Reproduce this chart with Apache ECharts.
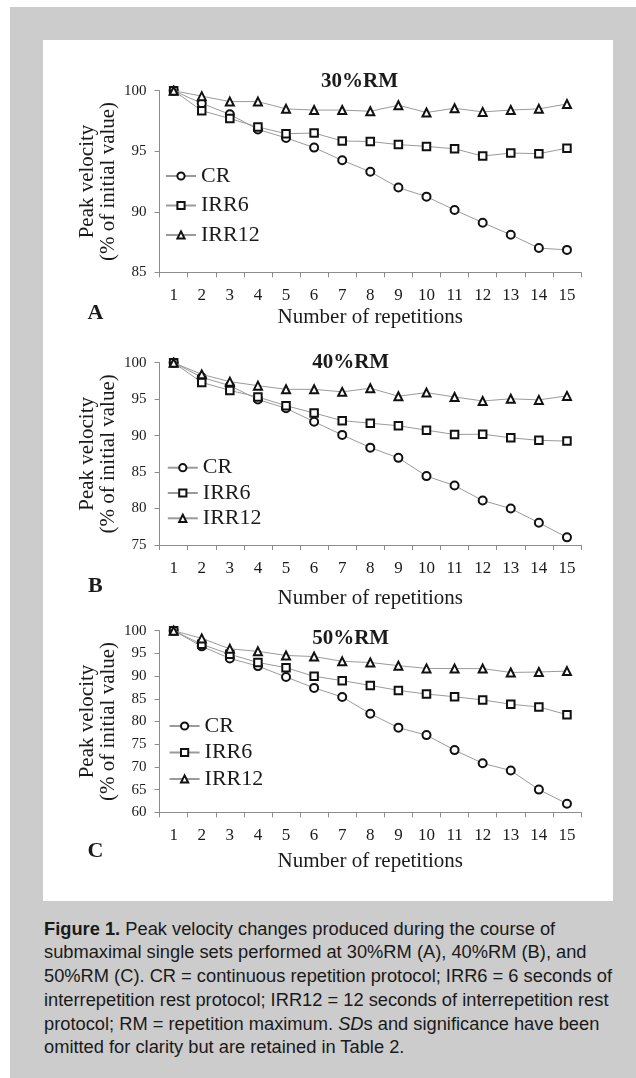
<!DOCTYPE html>
<html lang="en">
<head>
<meta charset="UTF-8" />
<title>Peak velocity</title>
<style>
  body { margin: 0; padding: 0; background: #fff; overflow: hidden; }
  .frame { position: absolute; left: 10px; top: 7px; right: 0; bottom: 0; background: #cccccc; }
  .panel { position: absolute; left: 43px; top: 40px; width: 570px; height: 861px; background: #fff; }
  .caption { position: absolute; left: 44px; top: 916.7px; white-space: nowrap;
    font: 18.3px/23.7px 'Liberation Sans', Arial, sans-serif; color: #1a1a1a; }
  .chart { position: absolute; left: 0; top: 0; width: 636px; height: 1078px; }
</style>
</head>
<body>
<div class="frame"></div>
<div class="panel"></div>
<div class="caption"><b>Figure 1.</b> Peak velocity changes produced during the course of<br>
submaximal single sets performed at 30%RM (A), 40%RM (B), and<br>
50%RM (C). CR = continuous repetition protocol; IRR6 = 6 seconds of<br>
interrepetition rest protocol; IRR12 = 12 seconds of interrepetition rest<br>
protocol; RM = repetition maximum. <i>SD</i>s and significance have been<br>
omitted for clarity but are retained in Table 2.</div>
<div class="chart"></div>
<script src="https://cdn.jsdelivr.net/npm/echarts@6/dist/echarts.min.js"></script>
<script>
// repetitions 1..15
const reps = ['1','2','3','4','5','6','7','8','9','10','11','12','13','14','15'];
const seriesNames = ['CR', 'IRR6', 'IRR12'];

// 30%RM
const cr30    = [100, 98.95, 98.05, 96.8, 96.1, 95.3, 94.25, 93.3, 92.0, 91.25, 90.15, 89.1, 88.1, 87.0, 86.85];
const irr6_30 = [100, 98.35, 97.7, 97.0, 96.45, 96.5, 95.85, 95.8, 95.55, 95.4, 95.2, 94.6, 94.85, 94.8, 95.25];
const irr12_30 = [100, 99.55, 99.1, 99.1, 98.5, 98.4, 98.4, 98.3, 98.8, 98.2, 98.55, 98.25, 98.4, 98.5, 98.9];
// 40%RM
const cr40    = [100, 98.0, 96.85, 94.95, 93.75, 91.9, 90.1, 88.35, 86.95, 84.45, 83.15, 81.1, 80.0, 78.05, 76.05];
const irr6_40 = [100, 97.3, 96.2, 95.3, 94.1, 93.1, 92.05, 91.7, 91.35, 90.75, 90.15, 90.2, 89.7, 89.35, 89.25];
const irr12_40 = [100, 98.4, 97.4, 96.85, 96.35, 96.35, 96.0, 96.5, 95.4, 95.9, 95.3, 94.75, 95.05, 94.9, 95.45];
// 50%RM
const cr50    = [100, 96.55, 93.9, 92.2, 89.8, 87.4, 85.4, 81.7, 78.65, 77.0, 73.7, 70.8, 69.2, 65.0, 61.9];
const irr6_50 = [100, 97.0, 94.8, 93.0, 91.85, 89.95, 89.0, 87.95, 86.85, 86.05, 85.45, 84.75, 83.8, 83.2, 81.5];
const irr12_50 = [100, 98.3, 96.0, 95.45, 94.55, 94.3, 93.25, 93.0, 92.3, 91.7, 91.65, 91.65, 90.8, 90.9, 91.1];

const panelTitles = ['30%RM', '40%RM', '50%RM'];
const panelLetters = ['A', 'B', 'C'];
const yMins = [85, 75, 60];

const panelData = [
  [cr30, irr6_30, irr12_30],
  [cr40, irr6_40, irr12_40],
  [cr50, irr6_50, irr12_50]
];

// layout of each panel (page pixels)
const layout = [
  { top: 90.7, height: 181.6, titleX: 359.6, titleY: 81.7, legendTop: 165, legendLeft: 165, legendGap: 7.5, nameGap: 35, letterY: 313 },
  { top: 362.7, height: 182.3, titleX: 350.7, titleY: 363, legendTop: 456.7, legendLeft: 166.8, legendGap: 3.3, nameGap: 42.5, letterY: 586.7 },
  { top: 630.7, height: 181.6, titleX: 350.7, titleY: 638.3, legendTop: 715, legendLeft: 168.6, legendGap: 4.5, nameGap: 39, letterY: 851.7 }
];

const serif = "'Liberation Serif', 'Times New Roman', serif";
const ink = '#1a1a1a';
const axisGray = '#8c8c8c';
const symbols = ['emptyCircle', 'emptyRect', 'emptyTriangle'];
const symbolSizes = [8, 7.5, 8];

const grid = [], xAxis = [], yAxis = [], legend = [], series = [], graphic = [];

layout.forEach((p, i) => {
  grid.push({ left: 159.6, right: 55, top: p.top, height: p.height });
  xAxis.push({
    type: 'category', gridIndex: i, data: reps, boundaryGap: true,
    name: 'Number of repetitions', nameLocation: 'middle', nameGap: p.nameGap,
    nameTextStyle: { fontFamily: serif, fontSize: 21, color: ink },
    axisLine: { lineStyle: { color: axisGray, width: 1 } },
    axisTick: { show: true, length: 5, lineStyle: { color: axisGray } },
    axisLabel: { fontFamily: serif, fontSize: 17, color: ink, margin: 15 },
    splitLine: { show: false }
  });
  yAxis.push({
    type: 'value', gridIndex: i, min: yMins[i], max: 100, interval: 5,
    name: 'Peak velocity\n(% of initial value)', nameLocation: 'middle', nameGap: 41,
    nameMoveOverlap: false,
    nameTextStyle: { fontFamily: serif, fontSize: 21, lineHeight: 21, color: ink },
    axisLine: { show: true, lineStyle: { color: axisGray, width: 1 } },
    axisTick: { show: true, length: 5, lineStyle: { color: axisGray } },
    axisLabel: { fontFamily: serif, fontSize: 15, color: ink, margin: 13 },
    splitLine: { show: false }
  });
  legend.push({
    orient: 'vertical', left: p.legendLeft, top: p.legendTop, padding: 0,
    itemWidth: 30, itemHeight: 9, itemGap: p.legendGap,
    data: seriesNames, selectedMode: false,
    textStyle: { fontFamily: serif, fontSize: 22, lineHeight: 20, color: ink }
  });
  panelData[i].forEach((vals, k) => {
    series.push({
      name: seriesNames[k], type: 'line', xAxisIndex: i, yAxisIndex: i,
      data: vals, symbol: symbols[k], symbolSize: symbolSizes[k],
      itemStyle: { color: '#111', borderWidth: 1.3 },
      lineStyle: { color: '#9a9a9a', width: 1 },
      z: 2 + k
    });
  });
  graphic.push({
    type: 'text', x: p.titleX, y: p.titleY,
    style: { text: panelTitles[i], font: 'bold 21px ' + serif, fill: ink, textAlign: 'center', textVerticalAlign: 'middle' }
  });
  graphic.push({
    type: 'text', x: 95.4, y: p.letterY,
    style: { text: panelLetters[i], font: 'bold 22px ' + serif, fill: ink, textAlign: 'center', textVerticalAlign: 'middle' }
  });
});

const chart = echarts.init(document.querySelector('.chart'));
chart.setOption({
  animation: false,
  backgroundColor: 'transparent',
  grid, xAxis, yAxis, legend, series, graphic
});
</script>
</body>
</html>
